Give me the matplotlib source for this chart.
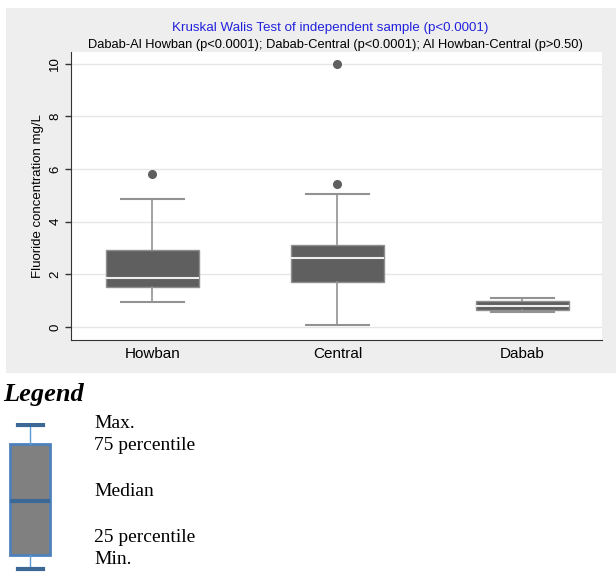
import matplotlib

matplotlib.use("Agg")
import matplotlib.pyplot as plt  # noqa: E402
from matplotlib.patches import Rectangle  # noqa: E402

# box summary values (mg/L)
regions = ["Howban", "Central", "Dabab"]
whisker_low = [0.97, 0.08, 0.57]
q1 = [1.53, 1.70, 0.64]
median = [1.87, 2.64, 0.82]
q3 = [2.94, 3.13, 0.98]
whisker_high = [4.86, 5.04, 1.11]
outliers = [[5.80], [5.44, 10.00], []]

y_ticks = [0, 2, 4, 6, 8, 10]

title = "Kruskal Walis Test of independent sample (p<0.0001)"
subtitle = "Dabab-Al Howban (p<0.0001); Dabab-Central (p<0.0001); Al Howban-Central (p>0.50)"
y_label = "Fluoride concentration mg/L"

# schematic legend box (arbitrary units) and its labels
legend_stats = {"whislo": 4, "q1": 18, "med": 72, "q3": 129, "whishi": 148}
legend_labels = ["Max.", "75 percentile", "Median", "25 percentile", "Min."]
legend_label_y = [424, 446, 492, 537, 559]

W, H = 616, 573
fig = plt.figure(figsize=(W / 100, H / 100), dpi=100)
fig.patch.set_facecolor("white")

# grey graph region like Stata
fig.patches.append(Rectangle((6 / W, 1 - 373 / H), 1 - 6 / W, (373 - 8) / H,
                             transform=fig.transFigure, facecolor="#eeeeee",
                             edgecolor="none", zorder=-5))

ax = fig.add_axes([71 / W, 1 - 340 / H, (602 - 71) / W, (340 - 52) / H])
ax.set_zorder(2)
stats = []
for i, name in enumerate(regions):
    stats.append({
        "label": name, "whislo": whisker_low[i], "q1": q1[i], "med": median[i],
        "q3": q3[i], "whishi": whisker_high[i], "fliers": outliers[i],
    })

ax.bxp(
    stats,
    positions=[1, 2, 3],
    widths=0.5,
    capwidths=0.34,
    patch_artist=True,
    boxprops=dict(facecolor="#5f5f5f", edgecolor="#8f8f8f", linewidth=1),
    medianprops=dict(color="#eeeeee", linewidth=1.5),
    whiskerprops=dict(color="#929292", linewidth=1.2),
    capprops=dict(color="#929292", linewidth=1.5),
    flierprops=dict(marker="o", markerfacecolor="#5f5f5f", markeredgecolor="#5f5f5f",
                    markersize=5.5),
)

ax.set_xlim(0.56, 3.43)
ax.set_ylim(-0.49, 10.45)
ax.set_yticks(y_ticks)
ax.set_yticklabels([str(t) for t in y_ticks], rotation=90, va="center",
                   fontsize=9.5, family="Liberation Sans")
ax.set_xticks([1, 2, 3])
ax.set_xticklabels(regions, fontsize=11, family="Liberation Sans")
ax.tick_params(axis="x", length=0, pad=5)
ax.tick_params(axis="y", length=4, width=1, color="#333333", pad=3)
ax.grid(axis="y", color="#e6e6e6", linewidth=1)
ax.set_axisbelow(True)
ax.spines["top"].set_visible(False)
ax.spines["right"].set_visible(False)
ax.spines["left"].set_color("#333333")
ax.spines["bottom"].set_color("#333333")
ax.set_ylabel(y_label, fontsize=9.5, family="Liberation Sans", labelpad=4)

fig.text(330 / W, 1 - 28 / H, title, color="#2222dd", fontsize=9.6,
         family="Liberation Sans", ha="center", va="center")
fig.text(335 / W, 1 - 45 / H, subtitle, color="black", fontsize=9.3,
         family="Liberation Sans", ha="center", va="center")

# legend part
fig.text(3 / W, 1 - 394 / H, "Legend", fontsize=19, family="Liberation Serif",
         weight="bold", style="italic", ha="left", va="center")

lax = fig.add_axes([0 / W, 0, 60 / W, 1 - 423 / H])
lax.bxp(
    [dict(legend_stats, fliers=[])],
    positions=[30],
    widths=40,
    capwidths=25,
    patch_artist=True,
    boxprops=dict(facecolor="#808080", edgecolor="#4f81bd", linewidth=2),
    medianprops=dict(color="#3c6896", linewidth=3),
    whiskerprops=dict(color="#5b9bd5", linewidth=1),
    capprops=dict(color="#3c6896", linewidth=3),
)
lax.set_xlim(0, 60)
lax.set_ylim(0, 150)
lax.axis("off")

for label, y in zip(legend_labels, legend_label_y):
    fig.text(94 / W, 1 - y / H, label, fontsize=14, family="Liberation Serif",
             ha="left", va="center")

fig.savefig("out.png", dpi=100)
